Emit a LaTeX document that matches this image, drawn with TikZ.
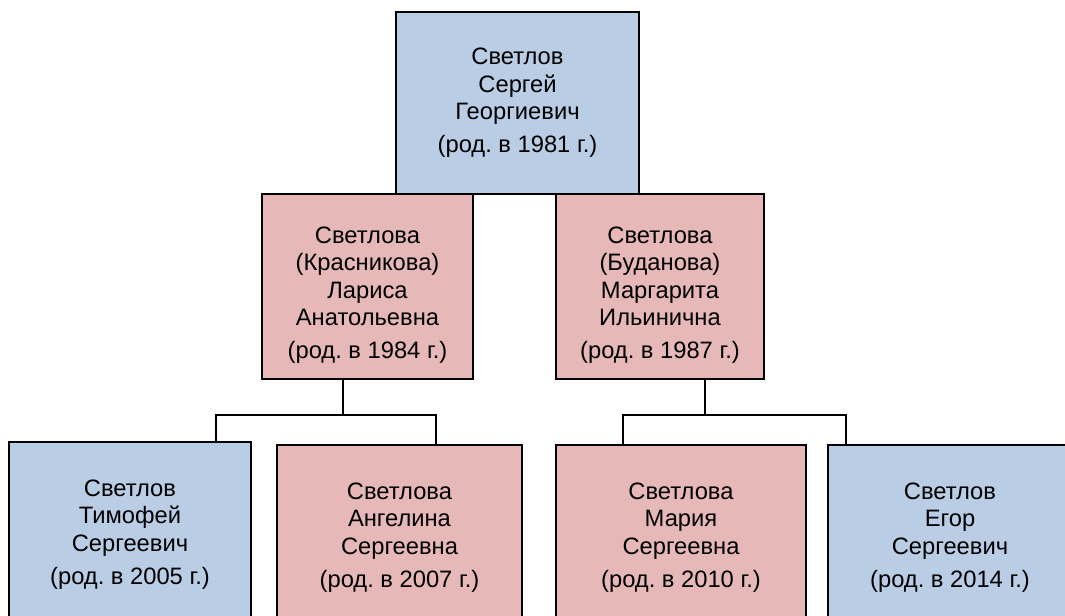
\documentclass[tikz,border=0pt]{standalone}
\usepackage{fontspec}
\setmainfont{Liberation Sans}
\usepackage{tikz}
\frenchspacing
\definecolor{boyblue}{HTML}{B9CDE5}
\definecolor{girlpink}{HTML}{E6B9B8}
\tikzstyle{every node}=[draw=black,line width=1.5pt,align=center,inner sep=0pt,font=\fontsize{17.8}{20.6}\selectfont]
\tikzstyle{male}=[fill=boyblue]
\tikzstyle{female}=[fill=girlpink]
\tikzstyle{link}=[line width=1.5pt]
\tikzset{wh/.style 2 args={minimum width=#1*0.75pt,minimum height=#2*0.75pt}}
\newcommand{\born}[1]{\\[4pt](род. в #1 г.)}
\newcommand{\lowered}{\rule{0pt}{25pt}}

\begin{document}
\begin{tikzpicture}[x=0.75pt,y=-0.75pt]
    \useasboundingbox (0,0) rectangle (1065,616);
    \clip (0,0) rectangle (1065,616);
    \node[male,wh={243}{182}] (father) at (517.5,103) {Светлов\\Сергей\\Георгиевич\born{1981}};
    \node[female,wh={211}{185}] (wifeA) at (367.5,286.5) {\lowered Светлова\\(Красникова)\\Лариса\\Анатольевна\born{1984}};
    \node[female,wh={208}{185}] (wifeB) at (660,286.5) {\lowered Светлова\\(Буданова)\\Маргарита\\Ильинична\born{1987}};
    \node[male,wh={242}{185}] (timofey) at (130,534.5) {Светлов\\Тимофей\\Сергеевич\born{2005}};
    \node[female,wh={245}{185}] (angelina) at (399.5,537.5) {Светлова\\Ангелина\\Сергеевна\born{2007}};
    \node[female,wh={250}{185}] (mariya) at (681,537.5) {Светлова\\Мария\\Сергеевна\born{2010}};
    \node[male,wh={244}{185}] (egor) at (950,537.5) {Светлов\\Егор\\Сергеевич\born{2014}};
    \coordinate (forkA) at (343,415);
    \coordinate (forkA1) at (216,415);
    \coordinate (forkA2) at (436,415);
    \coordinate (forkB) at (705,415);
    \coordinate (forkB1) at (623,415);
    \coordinate (forkB2) at (846,415);
    \draw[link] (wifeA.south -| forkA) -- (forkA);
    \draw[link] (timofey.north -| forkA1) -- (forkA1) -- (forkA2) -- (angelina.north -| forkA2);
    \draw[link] (wifeB.south -| forkB) -- (forkB);
    \draw[link] (mariya.north -| forkB1) -- (forkB1) -- (forkB2) -- (egor.north -| forkB2);
  \end{tikzpicture}
\end{document}
